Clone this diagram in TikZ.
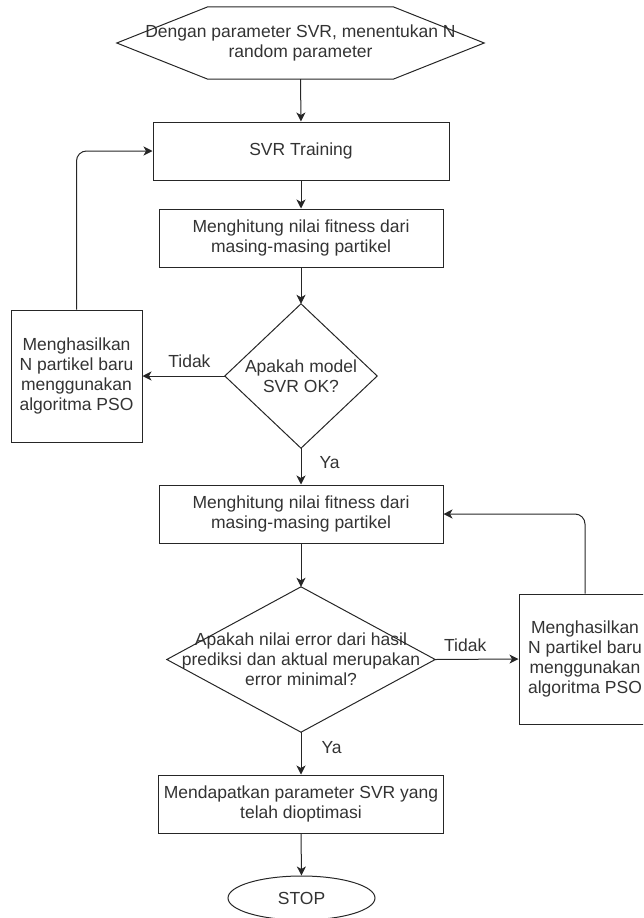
\documentclass[tikz,border=0pt]{standalone}
\usepackage{fontspec}
\setmainfont{Liberation Sans}
\usetikzlibrary{arrows.meta,shapes.geometric}

\begin{document}
\begin{tikzpicture}[x=1pt,y=-1pt,
		every node/.style={font=\fontsize{17.5}{20}\selectfont, text=black!80},
		outline/.style={draw=black!85, line width=1pt},
		box/.style={outline, inner sep=0pt, align=center},
		shapebox/.style={inner sep=0pt, align=center},
		flow/.style={outline, -{Stealth[length=9pt,width=9pt,inset=2.5pt]}},
		lbl/.style={inner sep=0pt}]
	\clip (0,0) rectangle (643,918);

	% main column
	\node[shapebox, minimum width=367pt, minimum height=72pt] (start) at (300.5,43) {Dengan parameter SVR, menentukan N\\random parameter};
	\draw[outline] (start.west) -- ([xshift=91pt]start.north west) -- ([xshift=-91pt]start.north east)
		-- (start.east) -- ([xshift=-91pt]start.south east) -- ([xshift=91pt]start.south west) -- cycle;
	\node[box, minimum width=296pt, minimum height=58pt] (train) at (301,151) {SVR Training};
	\node[box, minimum width=284pt, minimum height=58pt] (fit1) at (301,238) {Menghitung nilai fitness dari\\masing-masing partikel};
	\node[shapebox, minimum width=152pt, minimum height=144pt] (dec1) at (301,376) {Apakah model\\SVR OK?};
	\draw[outline] (dec1.north) -- (dec1.east) -- (dec1.south) -- (dec1.west) -- cycle;
	\node[box, minimum width=284pt, minimum height=58pt] (fit2) at (301,514) {Menghitung nilai fitness dari\\masing-masing partikel};
	\node[shapebox, minimum width=268pt, minimum height=145pt] (dec2) at (301,659.5) {Apakah nilai error dari hasil\\prediksi dan aktual merupakan\\error minimal?};
	\draw[outline] (dec2.north) -- (dec2.east) -- (dec2.south) -- (dec2.west) -- cycle;
	\node[box, minimum width=285pt, minimum height=58pt] (result) at (301,804) {Mendapatkan parameter SVR yang\\telah dioptimasi};
	\node[box, ellipse, minimum width=147pt, minimum height=44pt] (stop) at (301.5,898) {STOP};

	% PSO boxes
	\node[box, minimum width=131pt, minimum height=132pt] (psoL) at (76.5,376) {Menghasilkan\\N partikel baru\\menggunakan\\algoritma PSO};
	\node[box, minimum width=132pt, minimum height=130pt] (psoR) at (585,659) {Menghasilkan\\N partikel baru\\menggunakan\\algoritma PSO};

	\draw[flow] (start.south) -- (train.north);
	\draw[flow] (train.south) -- (fit1.north);
	\draw[flow] (fit1.south) -- (dec1.north);
	\draw[flow] (dec1.west) -- node[lbl, above=8pt, pos=0.43] {Tidak} (psoL.east);
	\draw[flow, rounded corners=10pt] (psoL.north) |- (train.west);
	\draw[flow] (dec1.south) -- node[lbl, right=18pt, pos=0.4] {Ya} (fit2.north);
	\draw[flow] (fit2.south) -- (dec2.north);
	\draw[flow] (dec2.east) -- node[lbl, above=7pt, pos=0.36] {Tidak} (psoR.west);
	\draw[flow, rounded corners=10pt] (psoR.north) |- (fit2.east);
	\draw[flow] (dec2.south) -- node[lbl, right=20pt, pos=0.36] {Ya} (result.north);
	\draw[flow] (result.south) -- (stop.north);
\end{tikzpicture}
\end{document}
